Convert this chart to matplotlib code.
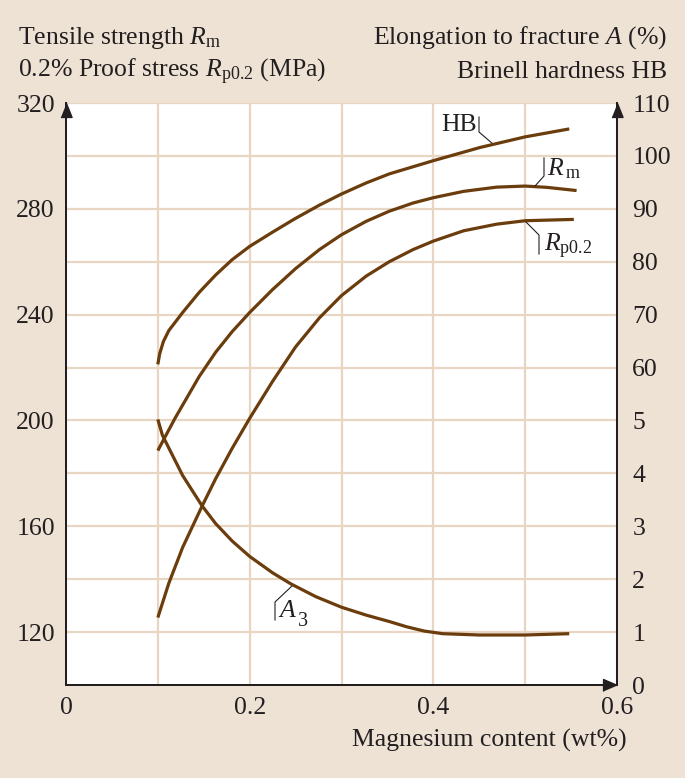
import matplotlib
matplotlib.use("Agg")
import matplotlib.pyplot as plt

plt.rcParams['font.family'] = ['Liberation Serif', 'DejaVu Serif']
plt.rcParams['mathtext.fontset'] = 'custom'
plt.rcParams['mathtext.rm'] = 'Liberation Serif'
plt.rcParams['mathtext.it'] = 'Liberation Serif:italic'

# ---- data ----
hb_x = [0.1, 0.102, 0.106, 0.112, 0.127, 0.145, 0.163, 0.181, 0.2, 0.225, 0.25, 0.276,
        0.3, 0.327, 0.352, 0.4, 0.451, 0.5, 0.548]
hb_y = [60.6, 62.6, 64.9, 67.0, 70.4, 74.2, 77.5, 80.4, 82.9, 85.6, 88.2, 90.7,
        92.8, 94.9, 96.6, 99.1, 101.6, 103.6, 105.1]

rm_x = [0.1, 0.105, 0.119, 0.145, 0.163, 0.181, 0.2, 0.225, 0.25, 0.276, 0.3, 0.327,
        0.352, 0.378, 0.4, 0.433, 0.469, 0.5, 0.524, 0.556]
rm_y = [188.6, 191.9, 201.0, 216.6, 225.8, 233.6, 240.8, 249.5, 257.4, 264.6, 270.2, 275.3,
        279.1, 282.2, 284.2, 286.6, 288.2, 288.6, 288.1, 286.9]

rp_x = [0.1, 0.112, 0.127, 0.148, 0.163, 0.181, 0.2, 0.225, 0.25, 0.276, 0.3, 0.327,
        0.352, 0.378, 0.4, 0.433, 0.469, 0.5, 0.553]
rp_y = [125.5, 138.5, 152.0, 167.5, 178.0, 189.5, 200.8, 214.8, 227.8, 238.8, 247.2, 254.6,
        260.0, 264.6, 267.8, 271.7, 274.2, 275.5, 276.0]

a_x = [0.1, 0.105, 0.127, 0.148, 0.163, 0.181, 0.2, 0.225, 0.245, 0.272, 0.3, 0.327,
       0.352, 0.371, 0.39, 0.41, 0.45, 0.5, 0.548]
a_y = [5.02, 4.72, 3.96, 3.39, 3.05, 2.72, 2.43, 2.12, 1.91, 1.67, 1.47, 1.32,
       1.20, 1.10, 1.02, 0.97, 0.945, 0.945, 0.97]

x_ticks = [0, 0.2, 0.4, 0.6]
x_ticklabels = ['0', '0.2', '0.4', '0.6']
left_ticks = [120, 160, 200, 240, 280, 320]
right_ticks = [0, 1, 2, 3, 4, 5, 6, 7, 8, 9, 10, 11]
right_ticklabels = ['0', '1', '2', '3', '4', '5', '60', '70', '80', '90', '100', '110']

BG = '#eee2d5'
GRID = '#e8d6c2'
CURVE = '#6b3c0c'
INK = '#231f20'
FS = 18.5

fig = plt.figure(figsize=(6.85, 7.78), dpi=100, facecolor=BG)
ax = fig.add_axes([66/685, 1-685/778, (617-66)/685, (685-103)/778])
ax.set_facecolor('white')
ax.set_xlim(0, 0.6)
ax.set_ylim(100, 320)
ax2 = ax.twinx()
ax2.set_ylim(0, 11)

# grid
ax.set_xticks(x_ticks)
ax.set_xticklabels(x_ticklabels)
ax.set_xticks([0.1, 0.3, 0.5], minor=True)
ax.set_yticks(left_ticks)
ax.set_yticks([140, 180, 220, 260, 300], minor=True)
ax.grid(True, which='both', color=GRID, lw=1.6, zorder=0)
ax.set_axisbelow(True)
ax.tick_params(which='both', length=0, labelsize=FS, colors=INK, pad=8)
ax.tick_params(axis='x', pad=9)

ax2.set_yticks(right_ticks)
ax2.set_yticklabels(right_ticklabels)
ax2.tick_params(which='both', length=0, labelsize=FS, colors=INK, pad=11)

for a in (ax, ax2):
    a.spines['top'].set_visible(False)
    for s in ('left', 'right', 'bottom'):
        a.spines[s].set_color(INK)
        a.spines[s].set_linewidth(1.4)

# curves
kw = dict(color=CURVE, lw=2.3, solid_capstyle='butt', solid_joinstyle='round')
ax.plot(rm_x, rm_y, **kw)
ax.plot(rp_x, rp_y, **kw)
ax2.plot(hb_x, [v / 10 for v in hb_y], **kw)
ax2.plot(a_x, a_y, **kw)

# arrows
tri_up = [(-0.4, -0.5), (0.4, -0.5), (0, 0.5)]
tri_right = [(-0.5, -0.43), (-0.5, 0.43), (0.5, 0)]
ax.plot([0], [1 - 7/582], marker=tri_up, ms=10, color=INK, transform=ax.transAxes, clip_on=False, zorder=5)
ax.plot([1], [1 - 7/582], marker=tri_up, ms=10, color=INK, transform=ax.transAxes, clip_on=False, zorder=5)
ax.plot([1 - 7/551], [0], marker=tri_right, ms=10, color=INK, transform=ax.transAxes, clip_on=False, zorder=5)

# curve labels with leader lines (pixel positions -> axes fraction)
def px(xp, yp):
    return ((xp - 66) / 551, (685 - yp) / 582)

def leader(points):
    xs, ys = zip(*[px(*p) for p in points])
    ax.plot(xs, ys, color=INK, lw=0.8, transform=ax.transAxes, clip_on=False, zorder=4)

leader([(479, 117), (479, 132), (493, 144)])
ax.text(*px(477, 125), 'HB', transform=ax.transAxes, ha='right', va='center', fontsize=FS, color=INK)
leader([(544, 158), (544, 176), (535, 186)])
ax.text(*px(547, 169), r'$R_{\,\mathrm{m}}$', transform=ax.transAxes, ha='left', va='center', fontsize=FS, color=INK)
leader([(526, 222), (539, 235), (539, 254)])
ax.text(*px(544, 246), r'$R_{\mathrm{p0.2}}$', transform=ax.transAxes, ha='left', va='center', fontsize=FS, color=INK)
leader([(292, 586), (275, 602), (275, 620)])
ax.text(*px(278, 611), r'$A$', transform=ax.transAxes, ha='left', va='center', fontsize=FS, color=INK)
ax.text(*px(298, 621), '3', transform=ax.transAxes, ha='left', va='center', fontsize=FS*0.78, color=INK)

# axis titles
fig.text(18/685, 1 - 38/778, r'Tensile strength $R_{\mathrm{m}}$', ha='left', va='center', fontsize=FS, color=INK)
fig.text(18/685, 1 - 72/778, r'0.2% Proof stress $R_{\mathrm{p0.2}}$ (MPa)', ha='left', va='center', fontsize=FS, color=INK)
fig.text(667/685, 1 - 38/778, r'Elongation to fracture $A$ (%)', ha='right', va='center', fontsize=FS, color=INK)
fig.text(667/685, 1 - 72/778, 'Brinell hardness HB', ha='right', va='center', fontsize=FS, color=INK)
fig.text(627/685, 1 - 740/778, 'Magnesium content (wt%)', ha='right', va='center', fontsize=FS, color=INK)

fig.savefig('out.png', dpi=100, facecolor=BG)
